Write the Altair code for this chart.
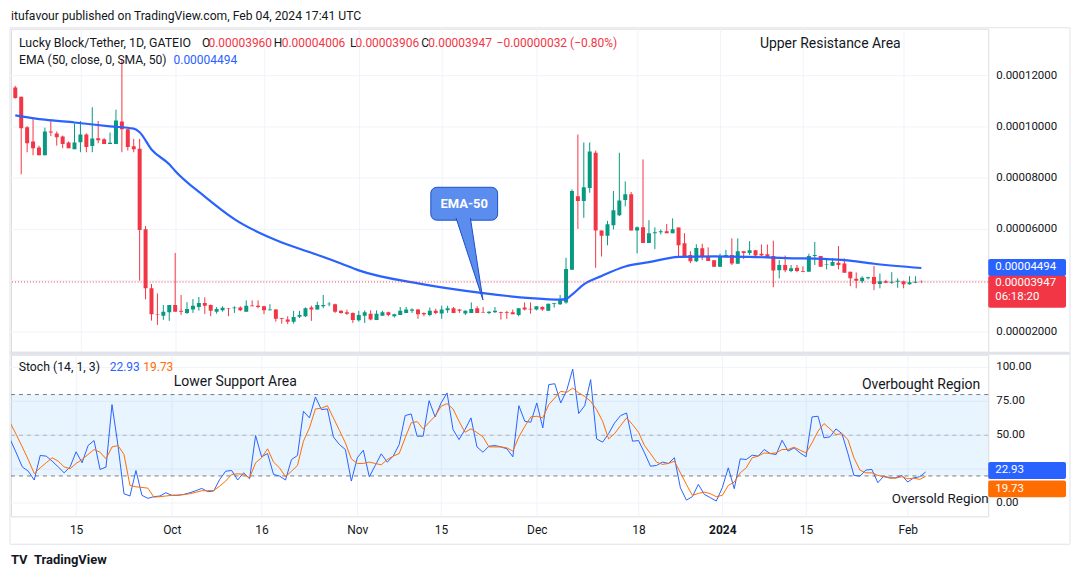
import altair as alt
import pandas as pd
import numpy as np

FONT = "Roboto"
SCALE = 1e-5
UP, DOWN = "#089981", "#F23645"
BLUE, ORANGE = "#2962FF", "#FF6D00"
TXT = "#131722"
GRID = "#F0F3FA"
W, H1, H2 = 980, 324, 162

dates = pd.date_range("2023-09-04", periods=154, freq="D").strftime("%Y-%m-%d").tolist()

opens = [11.54, 11.18, 9.99, 9.43, 9.20, 8.89, 9.82, 9.74, 9.62, 9.39,
         9.13, 9.40, 9.70, 9.25, 9.56, 9.52, 9.33, 9.33, 10.21, 9.91,
         9.24, 9.15, 6.01, 3.70, 2.70, 2.63, 2.77, 3.05, 2.82, 2.74,
         2.87, 2.97, 3.13, 3.05, 2.79, 2.84, 2.93, 2.92, 2.95, 2.79,
         3.03, 3.02, 3.00, 2.84, 2.87, 2.54, 2.48, 2.40, 2.59, 2.61,
         2.95, 2.87, 3.00, 3.08, 3.08, 2.82, 2.77, 2.74, 2.45, 2.63,
         2.71, 2.46, 2.63, 2.77, 2.61, 2.66, 2.74, 2.82, 2.87, 2.74,
         2.66, 2.82, 2.72, 2.84, 2.92, 2.87, 2.72, 2.74, 2.92, 2.76,
         2.74, 2.77, 2.77, 2.77, 2.77, 2.66, 2.95, 2.90, 2.87, 2.97,
         2.82, 3.10, 3.08, 3.15, 4.42, 7.29, 7.11, 7.61, 8.99, 5.96,
         5.75, 6.16, 6.55, 7.15, 7.37, 5.96, 6.08, 5.47, 5.85, 5.89,
         5.93, 5.85, 6.07, 5.46, 5.00, 4.76, 5.26, 4.96, 4.80, 4.54,
         4.91, 5.00, 4.66, 5.15, 5.08, 5.19, 5.05, 5.03, 4.96, 4.41,
         4.61, 4.38, 4.50, 4.38, 4.35, 4.96, 4.96, 4.61, 4.58, 4.70,
         4.67, 4.35, 4.07, 3.98, 4.09, 4.14, 3.87, 3.98, 3.92, 3.96,
         3.98, 3.86, 3.92, 3.960]
highs = [11.60, 11.18, 10.03, 10.34, 9.27, 9.97, 10.27, 9.82, 9.66, 9.43,
         10.13, 10.23, 9.75, 10.77, 10.23, 9.56, 9.78, 10.67, 12.66, 9.91,
         9.53, 9.53, 6.13, 3.87, 3.50, 3.05, 3.05, 5.08, 3.44, 3.16,
         3.28, 3.36, 3.35, 3.07, 2.97, 3.00, 2.93, 3.00, 3.00, 3.23,
         3.23, 3.23, 3.02, 3.08, 2.89, 2.55, 2.61, 2.82, 2.82, 2.96,
         3.02, 3.18, 3.44, 3.16, 3.10, 2.84, 2.87, 2.76, 2.82, 2.84,
         2.84, 2.84, 2.82, 2.79, 2.71, 2.97, 2.97, 2.92, 2.89, 2.76,
         2.95, 2.90, 3.02, 3.02, 2.97, 2.89, 2.84, 3.15, 3.00, 2.97,
         2.81, 2.97, 2.79, 2.82, 2.87, 2.92, 3.15, 3.15, 3.00, 3.00,
         3.10, 3.13, 3.44, 4.89, 7.56, 9.70, 9.39, 9.39, 9.07, 5.96,
         6.33, 7.50, 8.99, 7.87, 7.46, 6.11, 8.73, 6.36, 6.08, 6.00,
         6.21, 6.43, 6.07, 5.85, 5.15, 5.42, 5.44, 5.30, 4.80, 5.05,
         5.20, 5.65, 5.65, 5.15, 5.54, 5.19, 5.41, 5.41, 5.56, 4.80,
         4.98, 4.61, 4.61, 4.56, 5.05, 5.51, 4.96, 4.87, 4.87, 5.35,
         4.87, 4.35, 4.32, 4.17, 4.15, 4.57, 4.28, 4.03, 4.33, 4.09,
         4.00, 4.17, 4.17, 4.006]
lows = [11.10, 8.15, 9.01, 8.89, 8.89, 8.89, 9.64, 9.27, 9.17, 9.17,
        9.13, 9.01, 9.01, 9.01, 9.36, 9.33, 9.33, 9.33, 9.01, 9.08,
        9.01, 4.00, 3.27, 2.44, 2.27, 2.47, 2.43, 2.79, 2.66, 2.70,
        2.74, 2.83, 2.70, 2.61, 2.71, 2.79, 2.61, 2.74, 2.81, 2.79,
        3.00, 2.92, 2.69, 2.84, 2.40, 2.32, 2.30, 2.32, 2.54, 2.58,
        2.43, 2.87, 2.92, 3.00, 2.74, 2.71, 2.66, 2.35, 2.40, 2.35,
        2.45, 2.46, 2.63, 2.61, 2.56, 2.66, 2.74, 2.74, 2.51, 2.61,
        2.61, 2.69, 2.51, 2.74, 2.74, 2.74, 2.66, 2.74, 2.74, 2.74,
        2.69, 2.74, 2.48, 2.51, 2.69, 2.61, 2.84, 2.71, 2.84, 2.82,
        2.82, 2.95, 3.05, 3.10, 4.42, 6.02, 6.45, 7.43, 4.50, 4.94,
        5.38, 6.00, 6.52, 6.90, 5.96, 5.06, 5.47, 5.47, 5.23, 5.80,
        5.85, 5.85, 4.96, 4.92, 4.68, 4.72, 4.80, 4.77, 4.54, 4.54,
        4.91, 4.61, 4.66, 4.84, 5.00, 4.93, 4.96, 4.91, 3.74, 4.09,
        4.33, 4.33, 4.33, 4.33, 4.35, 4.61, 4.54, 4.44, 4.58, 4.44,
        4.31, 3.79, 3.70, 3.90, 4.05, 3.63, 3.70, 3.90, 3.87, 3.72,
        3.70, 3.84, 3.90, 3.906]
closes = [11.13, 9.95, 9.36, 9.17, 8.89, 9.82, 9.78, 9.60, 9.33, 9.17,
          9.39, 9.70, 9.21, 9.55, 9.48, 9.33, 9.38, 10.25, 9.91, 9.21,
          9.13, 5.98, 3.70, 2.69, 2.68, 2.79, 3.05, 2.79, 2.79, 2.89,
          3.02, 3.13, 3.02, 2.82, 2.89, 2.94, 2.91, 2.95, 2.84, 3.02,
          3.00, 2.97, 2.84, 2.87, 2.51, 2.51, 2.40, 2.58, 2.66, 2.92,
          2.87, 3.05, 3.05, 3.10, 2.79, 2.74, 2.71, 2.46, 2.66, 2.77,
          2.48, 2.71, 2.77, 2.66, 2.69, 2.82, 2.87, 2.87, 2.69, 2.69,
          2.82, 2.74, 2.87, 2.92, 2.74, 2.82, 2.82, 2.89, 2.74, 2.74,
          2.79, 2.82, 2.74, 2.74, 2.69, 2.92, 2.87, 2.87, 3.00, 2.87,
          3.10, 3.13, 3.23, 4.45, 7.50, 7.11, 7.64, 9.04, 5.96, 5.75,
          6.20, 6.75, 7.13, 7.37, 5.96, 6.08, 5.47, 5.85, 5.89, 5.93,
          5.85, 6.01, 5.38, 4.92, 4.76, 5.27, 4.93, 4.77, 4.54, 4.93,
          5.00, 4.67, 5.15, 5.08, 5.19, 4.98, 4.98, 4.91, 4.40, 4.61,
          4.41, 4.48, 4.38, 4.35, 4.96, 5.00, 4.54, 4.63, 4.73, 4.61,
          4.31, 4.09, 4.00, 4.11, 4.13, 3.87, 3.98, 3.92, 3.96, 4.00,
          3.86, 3.94, 3.96, 3.947]

stoch_k = [46.8, 37.0, 26.7, 23.5, 17.0, 35.1, 34.6, 30.9, 26.7, 22.3,
           26.7, 37.8, 29.7, 42.4, 46.1, 24.8, 26.5, 72.6, 42.4, 6.9,
           5.2, 24.0, 5.7, 3.5, 4.7, 5.2, 7.6, 5.7, 5.7, 6.4,
           7.6, 9.1, 10.8, 8.4, 8.9, 17.4, 23.5, 24.0, 17.0, 22.3,
           17.9, 49.8, 34.1, 36.5, 21.1, 19.9, 17.0, 32.1, 35.1, 67.7,
           62.8, 78.2, 68.9, 69.4, 48.8, 43.2, 39.5, 16.2, 33.4, 39.0,
           19.4, 27.7, 36.3, 30.2, 34.6, 43.2, 64.5, 65.7, 49.3, 49.3,
           75.5, 63.5, 73.8, 81.2, 54.2, 46.8, 54.2, 62.8, 41.4, 37.5,
           41.9, 42.4, 41.4, 40.0, 34.1, 71.8, 60.3, 59.6, 73.8, 55.4,
           87.3, 88.0, 73.8, 83.1, 98.8, 66.0, 71.8, 91.0, 47.3, 44.9,
           51.2, 59.1, 64.5, 66.4, 45.6, 46.1, 37.0, 27.2, 27.7, 30.2,
           29.2, 33.4, 11.3, 2.2, 4.7, 13.8, 6.4, 4.0, 1.5, 11.3,
           26.0, 10.6, 32.6, 32.1, 35.3, 34.6, 39.5, 36.5, 35.8, 46.3,
           38.3, 40.7, 37.0, 34.1, 63.5, 64.0, 48.1, 48.8, 54.7, 51.2,
           36.5, 20.4, 19.9, 24.3, 24.8, 15.0, 19.9, 18.6, 18.6, 20.4,
           15.5, 18.6, 19.4, 22.93]
stoch_d = [59.1, 50.5, 41.4, 32.1, 21.8, 26.0, 29.7, 33.4, 30.9, 26.7,
           25.3, 29.2, 32.1, 35.8, 39.5, 37.5, 32.6, 41.4, 42.4, 35.8,
           13.0, 12.0, 11.5, 11.0, 4.4, 4.7, 5.2, 5.7, 5.9, 6.2,
           6.9, 7.9, 9.1, 9.1, 9.3, 12.5, 16.2, 21.1, 21.6, 21.1,
           18.6, 29.7, 33.4, 40.0, 30.2, 26.0, 19.4, 23.5, 27.7, 45.6,
           55.4, 69.4, 69.9, 71.8, 62.8, 53.7, 44.4, 32.6, 29.2, 29.2,
           30.2, 29.2, 28.2, 32.1, 34.6, 36.5, 48.1, 59.1, 60.1, 54.7,
           59.6, 64.0, 71.4, 73.3, 69.4, 60.3, 52.2, 54.7, 52.0, 48.8,
           41.4, 41.4, 41.4, 40.7, 38.3, 48.8, 56.6, 63.5, 64.0, 62.8,
           72.6, 77.5, 82.4, 81.6, 84.8, 81.2, 78.7, 75.0, 68.9, 60.3,
           47.3, 51.2, 57.1, 62.8, 57.9, 52.2, 42.4, 36.5, 30.2, 28.5,
           29.2, 30.9, 22.3, 13.8, 5.7, 7.1, 8.1, 6.9, 4.7, 5.7,
           13.0, 15.5, 22.3, 26.0, 33.4, 34.6, 37.0, 36.5, 37.0, 39.5,
           39.5, 41.2, 39.0, 37.0, 44.4, 53.0, 58.6, 54.7, 50.5, 51.2,
           46.8, 33.4, 24.3, 22.3, 22.3, 20.4, 19.4, 18.4, 18.4, 19.4,
           17.9, 18.4, 17.4, 19.73]

ema_dates = ["2023-09-04", "2023-09-09", "2023-09-14", "2023-09-20", "2023-09-24",
             "2023-09-25", "2023-09-27", "2023-09-30", "2023-10-01", "2023-10-06",
             "2023-10-11", "2023-10-19", "2023-10-24", "2023-10-29", "2023-11-01",
             "2023-11-11", "2023-11-22", "2023-11-30", "2023-12-05", "2023-12-06",
             "2023-12-07", "2023-12-09", "2023-12-12", "2023-12-16", "2023-12-20",
             "2023-12-25", "2023-12-31", "2024-01-06", "2024-01-14", "2024-01-17",
             "2024-01-22", "2024-01-27", "2024-02-04"]
ema_vals = [10.45, 10.28, 10.17, 10.02, 9.93, 9.79, 9.12, 8.54, 8.28, 7.28,
            6.40, 5.49, 5.09, 4.67, 4.40, 3.89, 3.51, 3.32, 3.26, 3.28,
            3.45, 3.85, 4.18, 4.55, 4.72, 4.93, 4.95, 4.93, 4.87, 4.86,
            4.80, 4.66, 4.494]

tick_dates = ["2023-09-15", "2023-10-01", "2023-10-16", "2023-11-01", "2023-11-15",
              "2023-12-01", "2023-12-18", "2024-01-01", "2024-01-15", "2024-02-01"]
price_ticks = [2, 4, 6, 8, 10, 12]
price_labels_shown = [2, 6, 8, 10, 12]
stoch_ticks = [0, 25, 50, 75, 100]
stoch_labels_shown = [0, 50, 75, 100]

for arr in (opens, highs, lows, closes, stoch_k, stoch_d):
    assert len(arr) == len(dates), len(arr)
assert len(ema_dates) == len(ema_vals)

df = pd.DataFrame({
    "date": dates,
    "open": [v * SCALE for v in opens],
    "high": [v * SCALE for v in highs],
    "low": [v * SCALE for v in lows],
    "close": [v * SCALE for v in closes],
    "k": stoch_k,
    "d": stoch_d,
})
df["lo"] = df[["open", "close"]].min(axis=1)
df["hi"] = df[["open", "close"]].max(axis=1)
df["dir"] = np.where(df["close"] >= df["open"], "up", "down")
ema_df = pd.DataFrame({"date": ema_dates, "v": [v * SCALE for v in ema_vals]})


def ms(s):
    return int(pd.Timestamp(s, tz="UTC").value // 10**6)


x_domain = [ms("2023-09-04 02:48"), ms("2024-02-14 10:48")]
xscale = alt.Scale(type="utc", domain=x_domain)
yscale = alt.Scale(domain=[1.222 * SCALE, 13.83 * SCALE], zero=False, nice=False)
sscale = alt.Scale(domain=[-9.8, 109.3], zero=False, nice=False)
tick_ms = [ms(t) for t in tick_dates]
color = alt.Color("dir:N", scale=alt.Scale(domain=["up", "down"], range=[UP, DOWN]), legend=None)


def txt(s, x, y, c=TXT, size=12, weight="normal", align="left", baseline="middle"):
    return alt.Chart(pd.DataFrame({"t": [s]})).mark_text(
        align=align, baseline=baseline, color=c, fontSize=size, fontWeight=weight, font=FONT
    ).encode(x=alt.value(x), y=alt.value(y), text="t:N")


def one():
    return pd.DataFrame({"a": [0]})


# ---------------- main price panel ----------------
x_main = alt.X("date:T", scale=xscale, title=None,
               axis=alt.Axis(values=tick_ms, labels=False, ticks=False, domain=False,
                             grid=True, gridColor=GRID, gridWidth=1))

pgrid = alt.Chart(pd.DataFrame({"v": [v * SCALE for v in price_ticks]})).mark_rule(
    color=GRID, strokeWidth=1).encode(y=alt.Y("v:Q", scale=yscale, axis=None))
plabels = alt.Chart(pd.DataFrame({"v": [v * SCALE for v in price_labels_shown]})).mark_text(
    align="left", baseline="middle", color=TXT, fontSize=11.5, font=FONT).encode(
    x=alt.value(W + 8), y=alt.Y("v:Q", scale=yscale, axis=None), text=alt.Text("v:Q", format=".8f"))

base = alt.Chart(df)
wicks = base.mark_rule(strokeWidth=1, clip=True).encode(
    x=x_main, y=alt.Y("low:Q", scale=yscale, axis=None), y2="high:Q", color=color)
bodies = base.mark_bar(size=4, clip=True).encode(
    x=alt.X("date:T", scale=xscale), y=alt.Y("lo:Q", scale=yscale, axis=None), y2="hi:Q", color=color)
ema = alt.Chart(ema_df).mark_line(color=BLUE, strokeWidth=2.2, interpolate="monotone", clip=True).encode(
    x=alt.X("date:T", scale=xscale), y=alt.Y("v:Q", scale=yscale, axis=None))

last = pd.DataFrame({"v": [closes[-1] * SCALE], "e": [ema_vals[-1] * SCALE], "t": ["06:18:20"]})
price_line = alt.Chart(last).mark_rule(color=DOWN, strokeDash=[1, 2], strokeWidth=1).encode(
    y=alt.Y("v:Q", scale=yscale, axis=None))
ema_tag = alt.Chart(last).mark_rect(color=BLUE, yOffset=-8.9, y2Offset=8.1, cornerRadius=2).encode(
    x=alt.value(W), x2=alt.value(W + 78), y=alt.Y("e:Q", scale=yscale, axis=None), y2="e:Q")
ema_tag_t = alt.Chart(last).mark_text(align="left", baseline="middle", color="white", fontSize=11.5,
                                      font=FONT, dy=-0.5).encode(
    x=alt.value(W + 7), y=alt.Y("e:Q", scale=yscale, axis=None), text=alt.Text("e:Q", format=".8f"))
px_tag = alt.Chart(last).mark_rect(color=DOWN, yOffset=-6.2, y2Offset=25.8, cornerRadius=2).encode(
    x=alt.value(W), x2=alt.value(W + 78), y=alt.Y("v:Q", scale=yscale, axis=None), y2="v:Q")
px_tag_t = alt.Chart(last).mark_text(align="left", baseline="middle", color="white", fontSize=11.5,
                                     font=FONT, dy=1).encode(
    x=alt.value(W + 7), y=alt.Y("v:Q", scale=yscale, axis=None), text=alt.Text("v:Q", format=".8f"))
px_tag_t2 = alt.Chart(last).mark_text(align="left", baseline="middle", color="white",
                                      fontSize=11.5, font=FONT, dy=15).encode(
    x=alt.value(W + 7), y=alt.Y("v:Q", scale=yscale, axis=None), text="t:N")

frame = alt.Chart(one()).mark_rect(fill=None, stroke="#E0E3EB", strokeWidth=1).encode(
    x=alt.value(-1), x2=alt.value(W + 82), y=alt.value(-1), y2=alt.value(H1 + H2 + 5 + 26))
sep = alt.Chart(one()).mark_rule(color="#E0E3EB", strokeWidth=3).encode(
    x=alt.value(-1), x2=alt.value(W + 82), y=alt.value(H1 + 1.5))

# EMA-50 callout
pointer = alt.Chart(one()).mark_point(
    shape="M -0.333 -1.03 L 0.333 1 L 0.022 -1.03", size=6561, filled=True,
    fill="#5B8DEF", stroke="#1E4FC8", strokeWidth=1, opacity=1).encode(
    x=alt.value(459.8), y=alt.value(231.5))
box = alt.Chart(one()).mark_rect(
    fill="#5B8DEF", stroke="#1E4FC8", strokeWidth=1, cornerRadius=6).encode(
    x=alt.value(421), x2=alt.value(488), y=alt.value(159), y2=alt.value(192))

main_texts = [
    txt("itufavour published on TradingView.com, Feb 04, 2024 17:41 UTC", 0, -13, size=12.2),
    txt("Lucky Block/Tether, 1D, GATEIO", 8, 14, size=12.4),
    txt("O", 191.5, 14, size=12), txt("0.00003960", 198, 14, c=DOWN, size=12),
    txt("H", 263.5, 14, size=12), txt("0.00004006", 271.5, 14, c=DOWN, size=12),
    txt("L", 340, 14, size=12), txt("0.00003906", 345.5, 14, c=DOWN, size=12),
    txt("C", 411.5, 14, size=12), txt("0.00003947", 418.5, 14, c=DOWN, size=12),
    txt("\u22120.00000032 (\u22120.80%)", 487, 14, c=DOWN, size=12),
    txt("EMA (50, close, 0, SMA, 50)", 8, 31, size=12.2),
    txt("0.00004494", 163, 31, c=BLUE, size=12),
    txt("Upper Resistance Area", 751, 15, size=14),
    txt("EMA-50", 454.5, 176, c="white", size=13, weight="bold", align="center"),
]

main = alt.layer(
    frame, pgrid, sep, wicks, bodies, ema, price_line, box, pointer,
    ema_tag, ema_tag_t, px_tag, px_tag_t, px_tag_t2, plabels, *main_texts
).properties(width=W, height=H1)

# ---------------- stochastic panel ----------------
x_st = alt.X("date:T", scale=xscale, title=None,
             axis=alt.Axis(values=tick_ms, ticks=False, domain=False, grid=True, gridColor=GRID,
                           labelExpr="utcFormat(datum.value, '%d') == '01' ? (utcFormat(datum.value, '%m') == '01' ? utcFormat(datum.value, '%Y') : utcFormat(datum.value, '%b')) : utcFormat(datum.value, '%-d')",
                           labelFontWeight={"condition": {"test": "utcFormat(datum.value, '%m%d') == '0101'", "value": "bold"}, "value": "normal"},
                           labelPadding=8, labelColor=TXT, labelFontSize=12, labelFont=FONT))

sgrid = alt.Chart(pd.DataFrame({"v": stoch_ticks})).mark_rule(color=GRID, strokeWidth=1).encode(
    y=alt.Y("v:Q", scale=sscale, axis=None))
slabels = alt.Chart(pd.DataFrame({"v": stoch_labels_shown})).mark_text(
    align="left", baseline="middle", color=TXT, fontSize=11.5, font=FONT).encode(
    x=alt.value(W + 8), y=alt.Y("v:Q", scale=sscale, axis=None), text=alt.Text("v:Q", format=".2f"))
band = alt.Chart(pd.DataFrame({"a": [20], "b": [80]})).mark_rect(color="#2196F3", opacity=0.1).encode(
    x=alt.value(0), x2=alt.value(W), y=alt.Y("a:Q", scale=sscale, axis=None), y2="b:Q")
lvl = alt.Chart(pd.DataFrame({"v": [20, 80]})).mark_rule(color="#787B86", strokeDash=[4, 4], strokeWidth=1).encode(
    y=alt.Y("v:Q", scale=sscale, axis=None))
mid = alt.Chart(pd.DataFrame({"v": [50]})).mark_rule(color="#787B86", strokeDash=[4, 4], strokeWidth=1,
                                                     opacity=0.5).encode(y=alt.Y("v:Q", scale=sscale, axis=None))
kline = alt.Chart(df).mark_line(color=BLUE, strokeWidth=1, clip=True).encode(
    x=x_st, y=alt.Y("k:Q", scale=sscale, axis=None))
dline = alt.Chart(df).mark_line(color=ORANGE, strokeWidth=1, clip=True).encode(
    x=alt.X("date:T", scale=xscale), y=alt.Y("d:Q", scale=sscale, axis=None))

slast = pd.DataFrame({"k": [stoch_k[-1]], "d": [stoch_d[-1]]})
k_tag = alt.Chart(slast).mark_rect(color=BLUE, yOffset=-9.9, y2Offset=7.1, cornerRadius=2).encode(
    x=alt.value(W), x2=alt.value(W + 78), y=alt.Y("k:Q", scale=sscale, axis=None), y2="k:Q")
k_tag_t = alt.Chart(slast).mark_text(align="left", baseline="middle", color="white", fontSize=11.5,
                                     font=FONT, dy=-1.5).encode(
    x=alt.value(W + 7), y=alt.Y("k:Q", scale=sscale, axis=None), text=alt.Text("k:Q", format=".2f"))
d_tag = alt.Chart(slast).mark_rect(color=ORANGE, yOffset=4.1, y2Offset=21.1, cornerRadius=2).encode(
    x=alt.value(W), x2=alt.value(W + 78), y=alt.Y("d:Q", scale=sscale, axis=None), y2="d:Q")
d_tag_t = alt.Chart(slast).mark_text(align="left", baseline="middle", color="white", fontSize=11.5,
                                     font=FONT, dy=12.6).encode(
    x=alt.value(W + 7), y=alt.Y("d:Q", scale=sscale, axis=None), text=alt.Text("d:Q", format=".2f"))

st_texts = [
    txt("Stoch (14, 1, 3)", 7.7, 12.3, size=12.3),
    txt("22.93", 99, 12.3, c=BLUE, size=12),
    txt("19.73", 132.7, 12.3, c=ORANGE, size=12),
    txt("Lower Support Area", 163.3, 27.7, size=14),
    txt("Overbought Region", 853.3, 30, size=14),
    txt("Oversold Region", 883.3, 144.3, size=13.4),
    txt("TV", 0, 206, size=13, weight="bold"),
    txt("TradingView", 23, 206, size=13, weight="bold"),
]

stoch = alt.layer(
    sgrid, band, lvl, mid, kline, dline, k_tag, k_tag_t, d_tag, d_tag_t, slabels, *st_texts
).properties(width=W, height=H2)

chart = alt.vconcat(main, stoch, spacing=3).properties(
    bounds="flush", padding={"left": 0, "top": 0, "right": 0, "bottom": 0}, background="white"
).configure_view(stroke=None).configure(font=FONT)

chart.save("out.html", embed_options={"renderer": "svg", "actions": False})
